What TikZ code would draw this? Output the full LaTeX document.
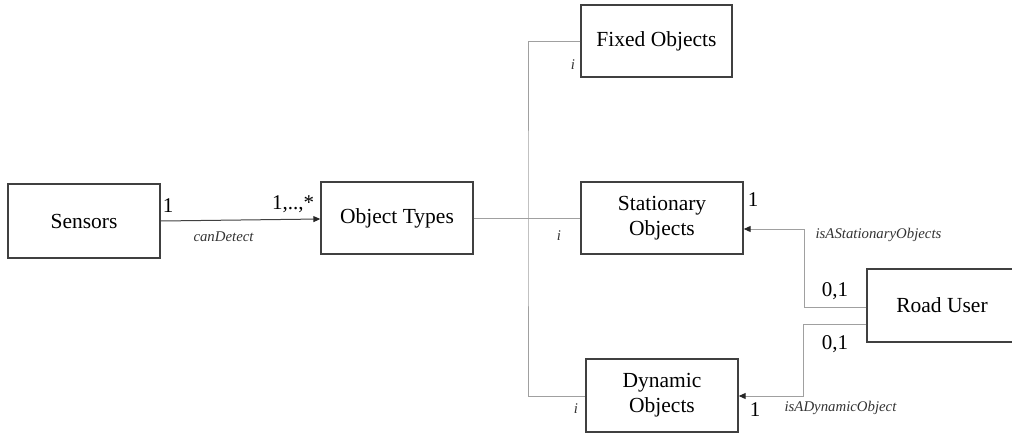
\documentclass[tikz,border=0pt]{standalone}
\usepackage{fontspec}
\setmainfont{Liberation Serif}
\usetikzlibrary{arrows.meta}
\definecolor{boxline}{HTML}{404040}
\definecolor{wire}{HTML}{A0A0A0}
\tikzset{
  entity/.style={draw=boxline, line width=1.4pt, fill=white, inner sep=0pt,
    font=\fontsize{21.5}{23}\selectfont, align=center},
  link/.style={draw=wire, line width=1pt},
  tip/.style={-{Triangle[length=7pt,width=6pt,color=black!85]}},
  mult/.style={font=\fontsize{21}{23}\selectfont, inner sep=0pt},
  role/.style={font=\fontsize{14.8}{16}\selectfont\itshape, inner sep=0pt, text=black!80}
}
\begin{document}
\begin{tikzpicture}[x=1pt,y=-1pt]
\useasboundingbox (0,0) rectangle (1012,434);
\begin{scope}
\clip (0,0) rectangle (1012,434);

% class boxes
\node[entity, minimum width=152pt, minimum height=74pt] (sens) at (84,221) {Sensors};
\node[entity, minimum width=152pt, minimum height=72pt] (otyp) at (397,218) {Object Types};
\node[entity, minimum width=151pt, minimum height=72pt] (fixd) at (656.5,41) {Fixed Objects};
\node[entity, minimum width=162pt, minimum height=72pt] (stat) at (662,218) {Stationary\\[2pt]Objects};
\node[entity, minimum width=152pt, minimum height=73pt] (dyna) at (662,395.5) {Dynamic\\[2pt]Objects};
\node[entity, minimum width=150pt, minimum height=73pt] (road) at (942,305.5) {Road User};

% bend points
\coordinate (bus)  at (528,218);
\coordinate (stA)  at (804.5,229);
\coordinate (stB)  at (804.5,307);
\coordinate (dyA)  at (803,324);
\coordinate (dyB)  at (803,396);

% canDetect association
\draw[draw=boxline, line width=1pt, tip] (sens.east |- 0,221) -- (otyp.west |- 0,219);

% specialisation tree
\draw[link] (otyp.east) -- (stat.west);
\draw[link] (fixd.west) -| (bus) |- (dyna.west |- 0,396);

% isA associations from Road User
\draw[link, tip] (road.west |- stB) -| (stA) -- (stat.east |- stA);
\draw[link, tip] (road.west |- dyA) -| (dyB) -- (dyna.east |- dyB);
\end{scope}

% multiplicities
\node[mult] (m1) at (168,206) {1};
\node[mult] (m2) at (293,204) {1,..,*};
\node[mult] (m3) at (753,200) {1};
\node[mult] (m4) at (835,291) {0,1};
\node[mult] (m5) at (835,344) {0,1};
\node[mult] (m6) at (755,410) {1};

% role names
\node[role] (r1) at (223.5,237) {canDetect};
\node[role] (r2) at (878.5,235) {isAStationaryObjects};
\node[role] (r3) at (840.5,408) {isADynamicObject};
\node[role] (i1) at (573,65) {i};
\node[role] (i2) at (559,236) {i};
\node[role] (i3) at (576,409) {i};
\end{tikzpicture}
\end{document}
